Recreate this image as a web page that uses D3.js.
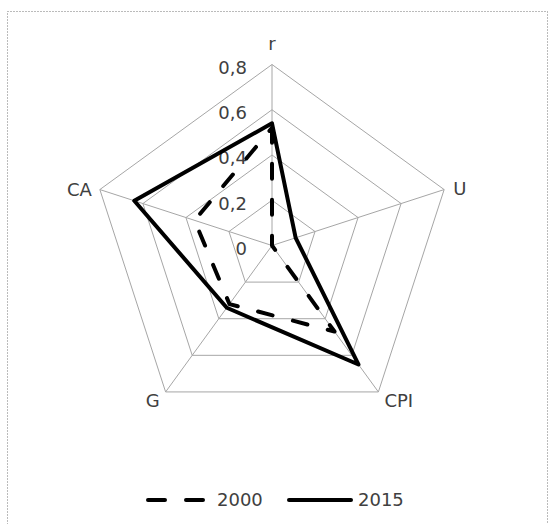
<!DOCTYPE html>
<html>
<head>
<meta charset="utf-8">
<script src="https://cdn.jsdelivr.net/npm/d3@7"></script>
<style>
  html, body { margin: 0; padding: 0; background: #fff; }
  svg { display: block; }
  text { font-family: "DejaVu Sans", sans-serif; fill: #404040; }
</style>
</head>
<body>
<svg id="chart" width="550" height="524"></svg>
<script>
const axes = ["r", "U", "CPI", "G", "CA"];
const ticks = [0, 0.2, 0.4, 0.6, 0.8];
const tickLabels = ["0", "0,2", "0,4", "0,6", "0,8"];
const seriesNames = ["2000", "2015"];
const values2000 = [0.52, 0.0, 0.47, 0.32, 0.36];
const values2015 = [0.54, 0.11, 0.65, 0.34, 0.64];

const svg = d3.select("#chart");
const cx = 272, cy = 245.5, R = 181;
const rScale = d3.scaleLinear().domain([0, 0.8]).range([0, R]);
const angle = d3.scalePoint().domain(axes).range([0, 2 * Math.PI * (axes.length - 1) / axes.length]);
const pt = (a, v) => [cx + rScale(v) * Math.sin(angle(a)), cy - rScale(v) * Math.cos(angle(a))];

// outer dotted frame
svg.append("rect").attr("x", 7.5).attr("y", 11.5).attr("width", 540).attr("height", 540)
  .attr("fill", "none").attr("stroke", "#777").attr("stroke-width", 1).attr("stroke-dasharray", "1,2");

const g = svg.append("g");
// rings
ticks.filter(t => t > 0).forEach(t => {
  g.append("path")
    .attr("d", d3.line()(axes.map(a => pt(a, t))) + "Z")
    .attr("fill", "none").attr("stroke", "#a6a6a6").attr("stroke-width", 1);
});
// spokes
axes.forEach(a => {
  const p = pt(a, 0.8);
  g.append("line").attr("x1", cx).attr("y1", cy).attr("x2", p[0]).attr("y2", p[1])
    .attr("stroke", "#a6a6a6").attr("stroke-width", 1);
});
// tick labels
ticks.forEach((t, i) => {
  g.append("text").attr("x", cx - 25).attr("y", cy - rScale(t) + 3)
    .attr("dy", "0.35em").attr("text-anchor", "end").attr("font-size", 18)
    .text(tickLabels[i]);
});
// axis labels
const labelPos = {
  "r":   {dx: 0, dy: -21, anchor: "middle"},
  "U":   {dx: 9, dy: -1, anchor: "start"},
  "CPI": {dx: 6, dy: 9, anchor: "start"},
  "G":   {dx: -6, dy: 9, anchor: "end"},
  "CA":  {dx: -8, dy: 0, anchor: "end"}
};
axes.forEach(a => {
  const p = pt(a, 0.8), o = labelPos[a];
  g.append("text").attr("x", p[0] + o.dx).attr("y", p[1] + o.dy).attr("dy", "0.35em")
    .attr("text-anchor", o.anchor).attr("font-size", 18).text(a);
});

// series
const radial = d3.lineRadial()
  .angle((d, i) => angle(axes[i]))
  .radius(d => rScale(d))
  .curve(d3.curveLinearClosed);
const styles = [
  {data: values2000, dash: "15,21"},
  {data: values2015, dash: null}
];
styles.forEach(s => {
  svg.append("path")
    .attr("transform", `translate(${cx},${cy})`)
    .attr("d", radial(s.data))
    .attr("fill", "none").attr("stroke", "#000").attr("stroke-width", 4)
    .attr("stroke-linejoin", "round").attr("stroke-linecap", "round")
    .attr("stroke-dasharray", s.dash);
});

// legend
const leg = svg.append("g");
leg.append("line").attr("x1", 148).attr("x2", 203).attr("y1", 500).attr("y2", 500)
  .attr("stroke", "#000").attr("stroke-width", 4).attr("stroke-linecap", "round").attr("stroke-dasharray", "17,21");
leg.append("text").attr("x", 217).attr("y", 500).attr("dy", "0.35em").attr("font-size", 18).text(seriesNames[0]);
leg.append("line").attr("x1", 289).attr("x2", 351).attr("y1", 500).attr("y2", 500)
  .attr("stroke", "#000").attr("stroke-width", 4).attr("stroke-linecap", "round");
leg.append("text").attr("x", 358).attr("y", 500).attr("dy", "0.35em").attr("font-size", 18).text(seriesNames[1]);
</script>
</body>
</html>
